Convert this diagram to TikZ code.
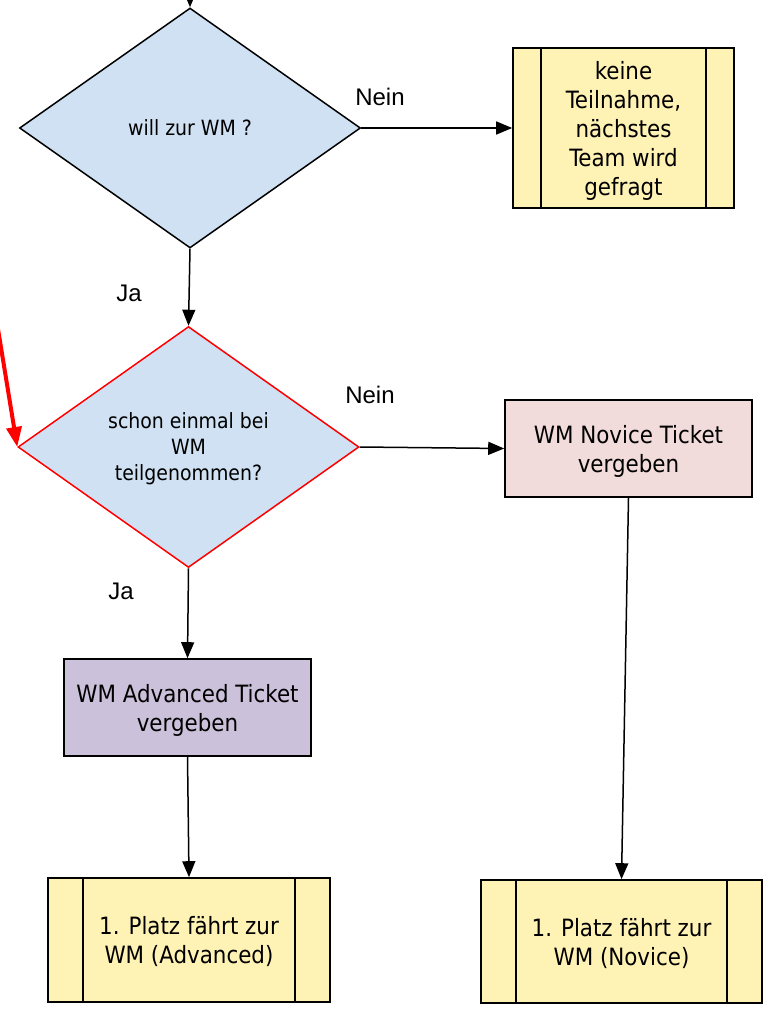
\documentclass[tikz,border=0pt]{standalone}
\usepackage{fontspec}
\setmainfont{DejaVu Sans Condensed}
\newfontfamily\lblfont{Liberation Sans}
\usetikzlibrary{shapes.geometric,arrows.meta}
\definecolor{dfill}{HTML}{CFE1F2}
\definecolor{yfill}{HTML}{FFF2B5}
\definecolor{pfill}{HTML}{F2DCDB}
\definecolor{vfill}{HTML}{CCC1DA}
\tikzset{
  dec/.style={diamond, draw=black, line width=1.5pt, fill=dfill, inner sep=0pt, align=center,
    text depth=-4pt, font=\fontsize{21}{26}\selectfont},
  procbox/.style={rectangle, draw=black, line width=1.6pt, inner sep=0pt, align=center,
    text depth=-2.5pt, font=\fontsize{23.8}{29}\selectfont},
  subproc/.style={procbox, fill=yfill, path picture={
    \draw[line width=1.6pt] ([xshift=#1]path picture bounding box.north west) -- ([xshift=#1]path picture bounding box.south west);
    \draw[line width=1.6pt] ([xshift=-#1]path picture bounding box.north east) -- ([xshift=-#1]path picture bounding box.south east);}},
  conn/.style={-{Triangle[length=16pt,width=13pt]}, line width=1.5pt},
  redconn/.style={-{Triangle[length=20pt,width=15pt]}, line width=4pt, draw=red},
  lbl/.style={font=\lblfont\fontsize{24}{28}\selectfont, inner sep=0pt}
}
\begin{document}
\begin{tikzpicture}[x=1pt,y=-1pt]
\useasboundingbox (0,0) rectangle (771,1011);
\node[dec, minimum width=341pt, minimum height=240pt] (d1) at (190,128) {will zur WM ?};
\node[dec, draw=red, minimum width=341pt, minimum height=241pt] (d2) at (188.5,447) {schon einmal bei\\WM\\teilgenommen?};
\node[subproc=28pt, minimum width=221pt, minimum height=160pt] (b1) at (623.5,128) {keine\\Teilnahme,\\nächstes\\Team wird\\gefragt};
\node[procbox, fill=pfill, minimum width=247pt, minimum height=97pt] (nov) at (628.5,448.5) {WM Novice Ticket\\vergeben};
\node[procbox, fill=vfill, minimum width=247pt, minimum height=97pt] (adv) at (187.5,707.5) {WM Advanced Ticket\\vergeben};
\node[subproc=35pt, minimum width=282pt, minimum height=124pt] (fa) at (189,940) {1. Platz fährt zur\\WM (Advanced)};
\node[subproc=35pt, minimum width=281pt, minimum height=123pt] (fn) at (621.5,941.5) {1. Platz fährt zur\\WM (Novice)};
\coordinate (top) at (190,-10);
\coordinate (red) at (-3,323);
\draw[conn] (top) -- (d1.north);
\draw[conn] (d1.east) -- (b1.west);
\draw[conn] (d1.south) -- (d2.north);
\draw[conn] (d2.east) -- (nov.west);
\draw[conn] (d2.south) -- (adv.north);
\draw[conn] (adv.south) -- (fa.north);
\draw[conn] (nov.south) -- (fn.north);
\draw[redconn] (red) -- (d2.west);
\node[lbl] (l1) at (380,97) {Nein};
\node[lbl] (l2) at (129,293) {Ja};
\node[lbl] (l3) at (370,395) {Nein};
\node[lbl] (l4) at (121,591) {Ja};
\end{tikzpicture}
\end{document}
